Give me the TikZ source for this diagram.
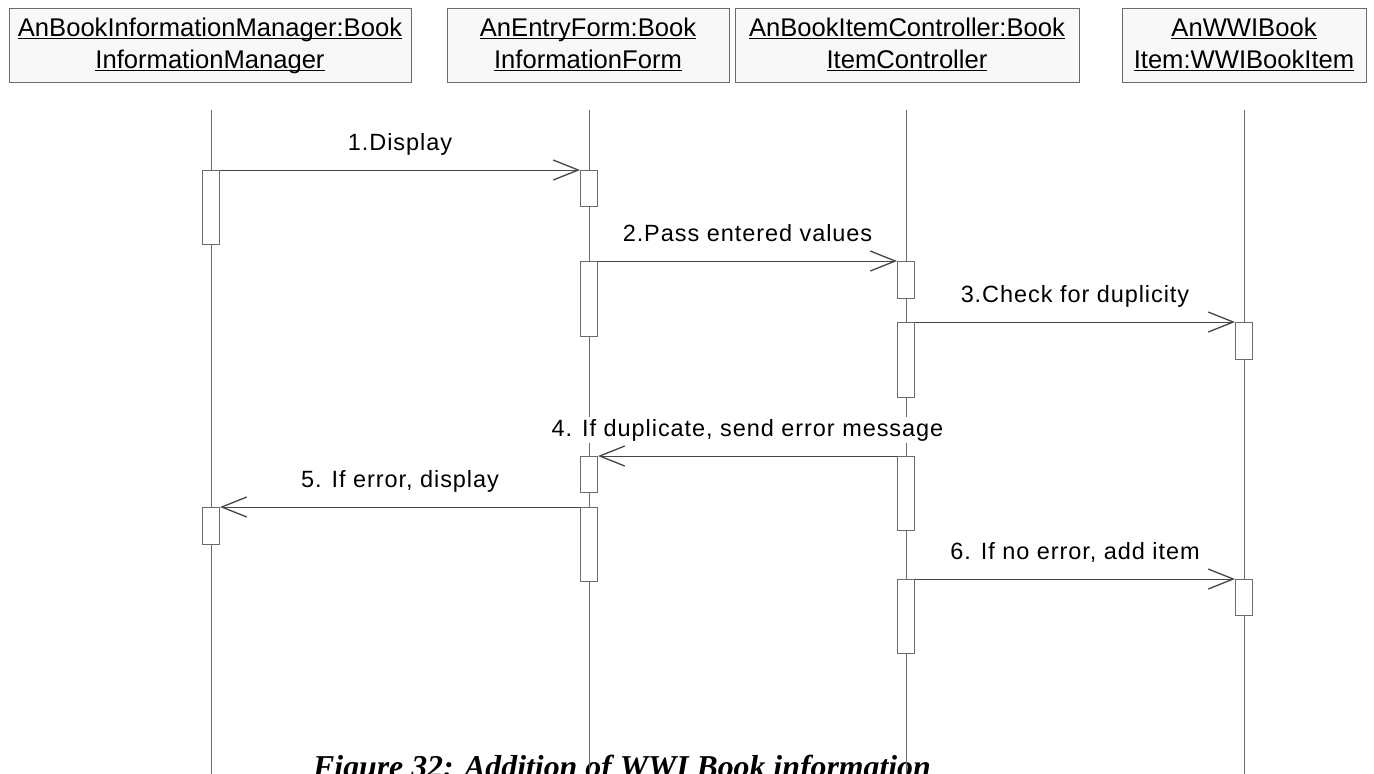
\documentclass[tikz,border=0pt]{standalone}
\usepackage{fontspec}
\setmainfont{Liberation Sans}
\newfontfamily\lblfont{Liberation Sans}[LetterSpace=4]
\newfontfamily\capfont{Liberation Serif}
\usepackage{tikz}
\usetikzlibrary{arrows.meta, positioning}
\definecolor{LineGray}{HTML}{6A6A6A}
\definecolor{ArrowGray}{HTML}{454545}
\definecolor{BoxFill}{HTML}{F8F8F8}
\newcommand{\ulbox}[1]{\underline{\smash{#1}\vphantom{A}}}

\begin{document}
\begin{tikzpicture}[x=1pt, y=-1pt,
  obj/.style={rectangle, draw=LineGray, fill=BoxFill, line width=1pt, minimum height=74pt,
              inner sep=0pt, align=center, font=\fontsize{25.6}{32}\selectfont},
  life/.style={draw=LineGray, line width=1pt},
  act/.style={rectangle, draw=LineGray, fill=white, line width=1pt, anchor=north,
              minimum width=17pt, inner sep=0pt},
  msg/.style={-{Straight Barb[length=25pt, width=20pt, line width=1.3pt]}, draw=ArrowGray, line width=1pt},
  lbl/.style={font=\lblfont\fontsize{23.5}{28}\selectfont, fill=white, inner sep=2pt,
              anchor=base, yshift=20pt},
  caption/.style={font=\capfont\bfseries\itshape\fontsize{31.8}{36}\selectfont, anchor=base}
]
\clip (0,0) rectangle (1374,774);
\fill[white] (0,0) rectangle (1374,774);

%% ---- Object boxes ----
\node[obj, minimum width=402pt] (mgr)  at ( 210, 45) {\ulbox{AnBookInformationManager:Book}\\\ulbox{InformationManager}};
\node[obj, minimum width=282pt] (form) at ( 588, 45) {\ulbox{AnEntryForm:Book}\\\ulbox{InformationForm}};
\node[obj, minimum width=344pt] (ctrl) at ( 907, 45) {\ulbox{AnBookItemController:Book}\\\ulbox{ItemController}};
\node[obj, minimum width=244pt] (item) at (1244, 45) {\ulbox{AnWWIBook}\\\ulbox{Item:WWIBookItem}};

%% ---- Caption (cut by the lower edge, as in the source) ----
\node[caption] (cap) at (622, 777) {Figure 32: Addition of WWI Book information};

%% ---- Lifelines ----
\foreach \n/\x in {mgr/211, form/589, ctrl/906, item/1244} {
  \coordinate (\n-top) at (\x, 110);
  \coordinate (\n-bot) at (\x, 780);
  \draw[life] (\n-top) -- (\n-bot);
}

%% ---- Activation bars ----
\node[act, minimum height=74pt] (a1) at ( 211, 170) {};
\node[act, minimum height=37pt] (a2) at ( 211, 507) {};
\node[act, minimum height=36pt] (b1) at ( 589, 170) {};
\node[act, minimum height=75pt] (b2) at ( 589, 261) {};
\node[act, minimum height=36pt] (b3) at ( 589, 456) {};
\node[act, minimum height=74pt] (b4) at ( 589, 507) {};
\node[act, minimum height=37pt] (c1) at ( 906, 261) {};
\node[act, minimum height=75pt] (c2) at ( 906, 322) {};
\node[act, minimum height=74pt] (c3) at ( 906, 456) {};
\node[act, minimum height=74pt] (c4) at ( 906, 579) {};
\node[act, minimum height=37pt] (d1) at (1244, 322) {};
\node[act, minimum height=36pt] (d2) at (1244, 579) {};

%% ---- Messages ----
\draw[msg] (a1.north east) -- node[lbl]{1.Display} (b1.north west);
\draw[msg] (b2.north east) -- node[lbl]{2.Pass entered values} (c1.north west);
\draw[msg] (c2.north east) -- node[lbl]{3.Check for duplicity} (d1.north west);
\draw[msg] (c3.north west) -- node[lbl]{4. If duplicate, send error message} (b3.north east);
\draw[msg] (b4.north west) -- node[lbl]{5. If error, display} (a2.north east);
\draw[msg] (c4.north east) -- node[lbl]{6. If no error, add item} (d2.north west);

\end{tikzpicture}
\end{document}
